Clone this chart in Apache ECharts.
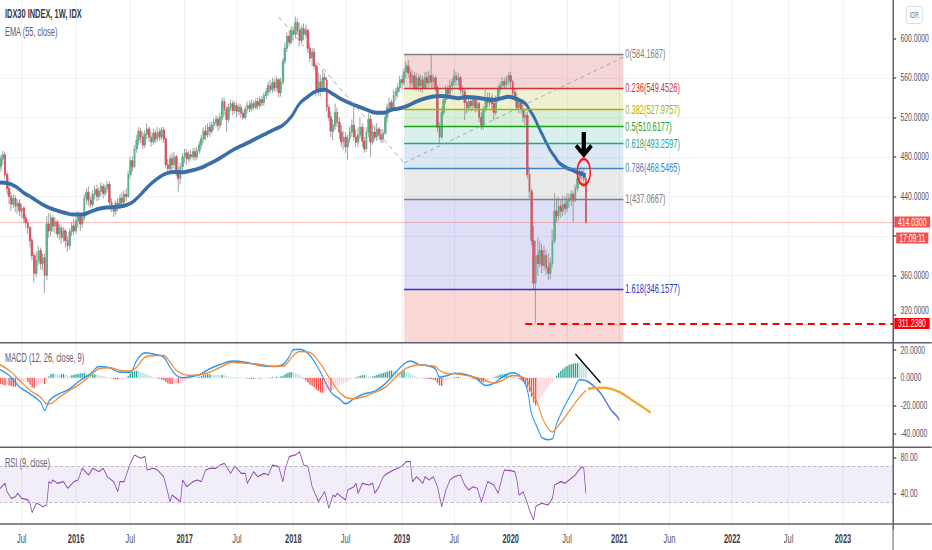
<!DOCTYPE html>
<html><head><meta charset="utf-8">
<script src="https://cdn.jsdelivr.net/npm/echarts@6/dist/echarts.min.js"></script>
<style>
html,body{margin:0;padding:0;overflow:hidden;background:#fff;width:932px;height:550px;}
#wrap{width:932px;height:550px;overflow:hidden;position:relative;}
#chart{position:absolute;left:0;top:0;width:1503px;height:550px;transform:scaleX(0.62);transform-origin:0 0;}
</style></head><body><div id="wrap"><div id="chart"></div></div>
<script>
// ---------------- data ----------------
const tickIndex  = [11, 37, 63, 89, 114, 141, 166, 193, 218, 245, 272, 297, 321, 351, 378, 404];
const tickLabels = ['Jul','2016','Jul','2017','Jul','2018','Jul','2019','Jul','2020','Jul','2021','Jun','2022','Jul','2023'];

// weekly candles [open, close, low, high]
const candles = [
[462,470,458,474],[470,478,465,482],[478,482,472,486],[482,462,458,485],[462,448,442,465],
[448,440,432,452],[440,432,425,445],[432,438,428,442],[438,430,424,441],[430,433,422,437],
[433,425,420,437],[425,428,418,432],[428,418,413,430],[418,413,408,422],[413,408,402,416],
[408,395,388,410],[395,380,375,398],[380,362,353,383],[362,375,358,384],[375,385,370,390],
[385,372,366,388],[372,378,365,382],[378,360,342,382],[360,412,355,420],[412,405,398,423],
[405,418,400,422],[418,410,404,421],[410,414,402,419],[414,402,398,416],[402,408,396,412],
[408,398,392,411],[398,405,394,409],[405,395,388,407],[395,390,384,400],[390,404,386,408],
[404,410,400,414],[410,405,401,417],[405,415,402,419],[415,420,408,425],[420,412,405,423],
[412,418,408,421],[418,438,415,442],[438,444,432,448],[444,436,430,450],[436,432,428,440],
[432,442,429,446],[442,447,437,451],[447,440,435,452],[440,445,436,449],[445,450,440,454],
[450,443,438,453],[443,448,440,452],[448,452,444,456],[452,434,430,455],[434,428,424,438],
[428,425,419,431],[425,433,421,436],[433,430,425,438],[430,438,427,442],[438,434,430,444],
[434,442,432,446],[442,440,435,448],[440,462,438,466],[462,476,458,480],[476,470,465,481],
[470,488,468,492],[488,497,484,502],[497,506,492,510],[506,500,494,509],[500,492,488,505],
[492,503,489,507],[503,508,498,514],[508,500,495,511],[500,495,490,505],[495,504,492,508],
[504,498,494,507],[498,505,495,510],[505,500,496,509],[500,507,497,510],[507,498,494,510],
[498,472,468,500],[472,468,462,478],[468,478,464,482],[478,472,466,484],[472,480,468,485],
[480,466,460,482],[466,458,444,470],[458,470,452,474],[470,480,466,484],[480,484,474,488],
[484,478,472,488],[478,482,474,486],[482,480,476,487],[480,485,477,489],[485,480,476,489],
[480,486,477,490],[486,492,483,496],[492,498,488,502],[498,506,494,510],[506,502,497,512],
[502,510,499,514],[510,506,500,515],[506,512,503,516],[512,515,507,519],[515,518,510,522],
[518,512,506,521],[512,520,508,524],[520,536,517,540],[536,528,522,540],[528,518,505,531],
[518,530,515,534],[530,534,526,538],[534,527,522,537],[527,532,524,536],[532,526,520,535],
[526,530,522,534],[530,524,519,533],[524,520,517,528],[520,528,518,531],[528,532,524,536],
[532,529,525,537],[529,534,526,538],[534,530,527,537],[530,536,528,539],[536,532,528,540],
[532,538,529,541],[538,535,531,542],[535,542,532,545],[542,546,538,550],[546,552,542,556],
[552,548,544,558],[548,555,545,560],[555,550,546,559],[550,558,546,562],[558,545,540,560],
[545,556,541,560],[556,577,553,580],[577,590,574,596],[590,602,586,606],[602,596,592,608],
[596,608,594,612],[608,604,598,612],[604,616,600,622],[616,608,603,620],[608,598,592,616],
[598,610,595,613],[610,604,598,615],[604,608,600,614],[608,590,585,610],[590,580,576,595],
[580,586,572,590],[586,572,568,590],[572,548,541,575],[548,556,542,565],[556,550,541,563],
[550,560,546,568],[560,558,548,565],[558,530,526,561],[530,520,516,533],[520,506,500,526],
[506,512,497,518],[512,525,508,534],[525,515,510,530],[515,505,498,520],[505,495,490,512],
[495,500,487,506],[500,490,484,505],[490,498,477,502],[498,505,494,510],[505,512,500,518],
[512,500,496,532],[500,495,490,508],[495,502,490,510],[502,510,498,520],[510,496,490,514],
[496,488,484,500],[488,505,485,510],[505,518,500,524],[518,495,480,522],[495,505,492,514],
[505,500,497,512],[500,508,496,514],[508,502,497,510],[502,498,494,508],[498,504,494,508],
[504,520,502,524],[520,530,515,534],[530,535,526,540],[535,530,526,538],[530,542,528,548],
[542,546,537,550],[546,550,540,555],[550,558,546,562],[558,555,548,563],[555,566,552,570],
[566,572,560,576],[572,565,560,578],[565,555,550,570],[555,562,551,568],[562,550,548,566],
[550,560,547,565],[560,552,546,564],[552,558,546,563],[558,550,545,562],[550,560,548,566],
[560,555,550,566],[555,562,551,567],[562,556,550,584.1687],[556,560,550,564],[560,550,546,562],
[550,510,505,552],[510,500,494,515],[500,525,498,530],[525,538,522,542],[538,548,534,552],
[548,544,540,553],[544,552,540,558],[552,556,546,560],[556,562,552,568],[562,558,552,566],
[558,560,552,565],[560,548,544,562],[548,546,540,552],[546,535,517,550],[535,530,524,540],
[530,536,526,540],[536,532,526,539],[532,538,528,542],[538,530,525,541],[530,534,526,538],
[534,520,515,536],[520,512,507,525],[512,528,508,532],[528,540,525,548],[540,535,530,545],
[535,540,531,545],[540,534,528,544],[534,525,517,538],[525,538,522,542],[538,548,535,552],
[548,552,544,556],[552,556,548,561],[556,553,549,560],[553,558,550,562],[558,562,552,566],
[562,556,550,566],[556,545,538,558],[545,540,536,550],[540,530,527,545],[530,535,524,538],
[535,528,524,538],[528,520,515,531],[520,522,512,528],[522,462,458,526],[462,445,438,470],
[445,395,390,448],[395,352,345,410],[352,380,311.238,395],[380,372,360,398],[372,385,368,395],
[385,370,362,392],[370,380,365,390],[380,368,360,386],[368,362,355,382],[362,372,356,378],
[372,395,368,406],[395,425,392,443],[425,420,414,438],[420,430,415,440],[430,425,418,436],
[425,432,420,441],[432,428,422,440],[428,435,424,443],[435,438,428,443],[438,442,430,446],
[442,436,414,445],[436,448,434,452],[448,458,445,462],[458,465,452,468],[465,462,456,470],
[462,458,452,469],[458,414.03,412,461]
];

// EMA(55): [weekIndex, value]
const emaPoints = [[0,454],[4,453.5],[8,450],[12,443.5],[16,438.5],[20,433],[24,428.5],[28,425.5],[32,423],[36,421.5],[40,421.5],[44,424.5],[48,427.3],[52,428.7],[56,429.3],[60,430.5],[64,434],[68,442],[72,451],[76,458],[80,463],[84,464.5],[88,464.3],[92,466],[96,468.3],[100,472],[104,476.3],[108,481.5],[112,486.8],[116,491],[120,495],[124,499.5],[128,503.5],[132,507.8],[136,512],[140,520.5],[144,534],[148,541],[152,546.5],[156,547.8],[160,543.5],[164,538.5],[168,534.3],[172,531],[176,527.8],[180,524.8],[184,524.5],[188,527.6],[192,529.1],[196,532],[200,536],[204,539],[208,541],[212,541.5],[216,540.6],[220,539.4],[224,540.5],[228,540],[232,538.8],[236,537.6],[240,539],[244,540.7],[248,538.5],[252,534],[254,527.5],[256,521],[258,512],[260,503],[262,494.5],[264,486.5],[266,480.5],[268,474.3],[270,471],[272,468.5],[274,467],[276,465],[278,463.4],[280,461.8],[281,461.5]];

// Fibonacci retracement
const fibLevels = ['0','0.236','0.382','0.5','0.618','0.786','1','1.618'];
const fibPrices = [584.1687,549.4526,527.9757,510.6177,493.2597,468.5465,437.0667,346.1577];
const fibStart = 194, fibEnd = 299;
const trendLines = [[[134,621.6],[194,473.7]], [[194,473.7],[299,581]]];

const lastPrice = 414.03, countdown = '17:09:11';
const lowPrice = 311.238, lowLineStart = 252, lowLineEnd = 428;
const arrowAt = [280, 492], circleAt = [280, 464.6];
const hiddenPriceLabels = [400];     // covered by the price tags in the reference
const raisedPriceLabels = [320];     // partly under the 311.2380 tag

// MACD (12, 26, close, 9)
const macdPoints = [[0,6.5],[5,1.7],[10,-6.7],[15,-11.5],[20,-17.5],[22,-23.5],[24,-17],[26,-14],[29,-11.5],[34,-7.9],[39,-1.9],[44,2.9],[48,8.1],[53,7.2],[58,4],[63,4],[66,12.4],[70,18],[75,16.8],[79,14.8],[82,7.6],[85,1.7],[88,0],[91,0.5],[96,2.2],[101,6.5],[106,9.6],[112,12],[118,11.2],[125,8.8],[131,8.1],[136,9.6],[139,15],[141,20.1],[144,20.5],[149,16],[154,4],[159,-10.4],[163,-15.1],[166,-18.7],[170,-15.1],[175,-11.5],[180,-9.6],[185,-4.3],[190,4],[194,10],[197,12],[201,9.6],[205,8.8],[209,6.5],[211,0.4],[215,1.7],[218,3.3],[222,2.9],[228,0],[233,-5.5],[237,-3.9],[241,0.4],[246,3.6],[250,0.4],[253,-9.1],[255,-25.9],[258,-36.7],[260,-43.2],[263,-44.6],[265,-43.9],[267,-33.1],[271,-19.9],[275,-9.1],[278,-1.4],[281,-1.9]];
const signalPoints = [[0,10],[5,5.3],[10,-1.9],[15,-9.1],[20,-13.9],[23,-18.7],[25,-18.5],[29,-14],[34,-9.1],[39,-4.3],[44,1.7],[48,6.5],[53,7.2],[58,5.3],[63,4.8],[66,7.6],[70,14.8],[75,16],[79,16],[82,11.2],[85,5.3],[88,2.9],[91,1.7],[96,2.2],[101,4],[106,7.6],[112,11.2],[118,10.5],[125,9.6],[131,8.3],[136,8.3],[141,16],[144,19],[149,18.2],[154,10],[159,-1.9],[163,-10.4],[166,-14],[170,-15.1],[175,-13.5],[180,-10.4],[185,-6.8],[190,0.4],[194,5.8],[197,8.1],[201,9.3],[205,8.8],[209,8.1],[211,5.3],[215,2.9],[218,2.9],[222,2.2],[228,0.4],[233,-1.9],[237,-3.9],[241,-1.9],[246,1.7],[250,0.9],[253,-1.9],[255,-10.4],[258,-18.7],[260,-28.3],[263,-36.7],[265,-39.1],[267,-36],[271,-28.3],[275,-19.9],[278,-14],[281,-9.1]];
const histValues = [
-4,-4.5,-5,-5.5,-5,-5.5,-6,-6.5,-6.5,-6,-5,-4,-3,-2.5,-3,-5,-7,-7.5,-6,-5,-4,-3.5,-4.5,-2,1,
2.5,3,2.8,2.5,2.2,2.5,2.8,2.2,1.5,1.2,1.8,2.2,2.5,2.8,3,3.2,3.5,3,2.5,2,2.2,2.5,2.2,1.8,1.5,
1.2,1,0.6,0.2,-0.3,-0.8,-1,-1.2,-1,-0.8,-0.5,0.2,1.5,3,4.2,4.8,5,4.8,4.2,3.6,3,2.4,1.8,1.2,0.6,
0.2,-0.4,-0.8,-1.2,-1.8,-3,-4,-4.5,-4.5,-4,-3.8,-4,-3.5,-2.8,-2.2,-1.5,-1,-0.6,-0.2,0,0.3,0.8,1.2,1.8,2.2,
2.5,2.6,2.4,2.2,2.1,2,1.8,2,1.8,1.3,1,0.8,0.6,0.5,0.4,0.3,0.2,0,-0.2,-0.4,-0.6,-0.7,-0.8,-0.6,-0.5,
-0.6,-0.4,-0.3,0,-0.2,0.3,0.6,0.5,0.8,0.6,1,1.5,2.5,3.2,3.8,4.2,4,3.5,3,2,1,-0.5,-2,-3.5,-5,
-6,-7,-8.5,-9.5,-10.5,-11,-10,-9,-8.5,-9.5,-8.5,-7.5,-6.5,-5.5,-4.8,-4,-3.5,-2.5,-1.5,-0.8,0,0.5,1,1.5,1.8,
2,1.5,1,0.8,1,1.5,2,2.5,3,3.5,4,4.5,5,5.3,5,4.8,4.5,4.2,4.6,5,4.5,4,3,2,1.2,
0.5,0.2,0,-0.3,-0.5,-0.5,-0.8,-1,-1.2,-2,-4,-5.5,-6,-4,-2.5,-1.5,-0.8,-0.2,0.3,0.5,0.8,0.6,0.3,0.2,0.1,
0,-0.3,-0.6,-1,-1.5,-2.2,-3,-3.5,-3,-2,-1,-0.3,0.3,1,1.6,2.2,2.6,2.8,3,2.8,2.4,1.8,1,0.2,-0.8,
-1.8,-3,-4.5,-7,-10,-14,-18,-20,-18,-15.5,-13,-10.5,-8.5,-6.5,-4.5,-2.5,-0.5,1.5,3.5,5,6.5,7.5,8.5,9.3,9.8,
10.2,10.5,10.6,10.5,10.4,9.8,7.5];
const macdProjection   = [[281,-1.9],[284,-5],[288,-11],[293,-23],[296,-28],[297,-30.5]];
const signalProjection = [[282,-7.9],[286,-7.3],[290,-7.2],[293,-8],[296,-9.5],[298,-11],[302,-15],[306,-19],[310,-23],[312,-25]];
const macdTrend = [[276,17.1],[288,-3.6]];

// RSI (9, close)
const rsiPoints = [[0,43.7],[3,51.1],[4,41.8],[6,34.4],[8,36.2],[9,40],[11,34.4],[14,32.6],[15,28.9],[16,18.5],[18,28.9],[20,27],[21,25.1],[23,27],[24,52.9],[25,51.1],[26,54.8],[28,51.1],[31,52.9],[33,45.6],[36,52.9],[38,54.8],[40,67.8],[43,60.3],[45,67.8],[48,64],[50,67.8],[52,58.4],[55,52.9],[57,41.8],[58,52.9],[60,52.9],[63,73.3],[65,82.6],[68,78.9],[70,80.7],[71,65.9],[74,67.8],[76,65.9],[79,58.4],[81,40],[82,30.7],[83,38.1],[85,34.4],[87,30.7],[88,54.8],[90,47.3],[93,52.9],[95,54.8],[97,52.9],[99,65.9],[101,67.8],[104,67.8],[106,71.4],[108,73.3],[111,62.2],[113,70.3],[116,62.2],[118,62.2],[119,51.1],[122,64],[124,58.4],[127,62.2],[129,60.3],[131,71.4],[134,69.6],[136,52.9],[137,65.9],[139,80.7],[142,82.6],[144,86.2],[146,71.4],[148,69.6],[150,47.3],[153,30.7],[156,41.8],[158,23.3],[160,38.1],[161,36.2],[162,40],[164,36.2],[166,32.6],[167,43.7],[170,47.3],[171,51.1],[172,40],[174,51.1],[177,49.2],[179,51.1],[180,40],[182,47.3],[184,58.4],[186,62.2],[189,65.9],[191,67.8],[193,70.3],[195,75.1],[197,75.1],[198,52.9],[200,58.4],[203,51.1],[204,58.4],[206,54.8],[208,58.4],[210,47.3],[212,25.1],[214,43.7],[216,54.8],[218,58.4],[221,60.3],[223,49.2],[225,43.7],[227,47.3],[229,45.6],[231,30.7],[233,45.6],[234,52.9],[237,49.2],[239,40],[241,58.4],[242,65.9],[245,65.1],[247,64],[248,54.8],[249,38.1],[251,41.8],[253,28.9],[254,21.4],[256,10.3],[257,25.1],[258,27],[260,28.9],[263,27],[265,34.4],[266,49.2],[269,52.9],[271,51.1],[273,54.8],[276,60.3],[277,64],[279,69.6],[280,67.8],[281,40]];
const rsiUpper = 70, rsiLower = 30;

// ---------------- layout / style ----------------
const SX = 0.62, K = 1 / SX;             // reference picture is squeezed horizontally
const NCAT = 429;
const categories = [];
for (let i = 0; i < NCAT; i++) {
  categories.push(new Date(Date.UTC(2015, 3, 20) + i * 7 * 86400000).toISOString().slice(0, 10));
}
const tickMap = {};
tickIndex.forEach((k, j) => { tickMap[k] = tickLabels[j]; });

const plotLeft = -1.3 * K, plotWidth = 428 * 2.0896 * K, plotRight = plotLeft + plotWidth;
const gridTops = [-1.2, 322.23, 439.3], gridHeights = [355.5, 138.84, 90];
const separators = [342.7, 447.3, 524];
const priceAtPaneBottom = 291.75;
const FONT = '"Liberation Sans", Arial, sans-serif';
const gridColor = '#eef0f4', axisColor = '#5d606b', textColor = '#50535e';

const fibLineColors = ['#808080','#cc3333','#a5b300','#1e9e1e','#1ea88c','#3d85c6','#808080','#3333cc'];
const fibFillColors = ['rgba(204,51,51,0.2)','rgba(165,179,0,0.18)','rgba(30,158,30,0.17)','rgba(30,168,140,0.17)','rgba(61,133,198,0.18)','rgba(128,128,128,0.17)','rgba(51,51,204,0.16)','rgba(230,60,60,0.2)'];

const xAxes = [0, 1, 2].map(g => ({
  type: 'category', gridIndex: g, data: categories, boundaryGap: false,
  axisLine: { show: false }, axisTick: { show: false },
  axisLabel: {
    show: g === 2, margin: 3, interval: (idx) => tickMap[idx] !== undefined,
    formatter: (v, idx) => { const t = tickMap[idx] || ''; return /^\d{4}$/.test(t) ? '{y|' + t + '}' : '{m|' + t + '}'; },
    rich: { y: { fontWeight: 'bold', fontSize: 12, color: '#3b3e48', fontFamily: FONT }, m: { fontSize: 12, color: textColor, fontFamily: FONT } }
  },
  splitLine: { show: true, interval: (idx) => tickMap[idx] !== undefined, lineStyle: { color: gridColor, width: 1.6 } }
}));

function yAx(g, min, max, interval, dec, ticks) {
  return {
    type: 'value', gridIndex: g, position: 'right', min, max, interval, scale: false,
    axisLine: { show: true, lineStyle: { color: axisColor, width: 1.6 } },
    axisTick: { show: true, length: 5, customValues: ticks, lineStyle: { color: axisColor, width: 1.6 } },
    axisLabel: {
      showMinLabel: false, showMaxLabel: false, margin: 12, color: textColor, fontSize: 11, fontFamily: FONT,
      formatter: v => {
        if (g === 0 && hiddenPriceLabels.indexOf(v) >= 0) return '';
        if (g === 0 && raisedPriceLabels.indexOf(v) >= 0) return '{r|' + v.toFixed(dec) + '}';
        return v.toFixed(dec);
      },
      rich: { r: { color: textColor, fontSize: 11, fontFamily: FONT, padding: [0, 0, 9, 0] } }
    },
    splitLine: { show: true, showMinLine: false, showMaxLine: false, lineStyle: { color: gridColor, width: 1 } }
  };
}

// fib marks
const fibAreas = [];
for (let k = 0; k < fibPrices.length - 1; k++) {
  fibAreas.push([{ coord: [fibStart, fibPrices[k]], itemStyle: { color: fibFillColors[k] } }, { coord: [fibEnd, fibPrices[k + 1]] }]);
}
fibAreas.push([{ coord: [fibStart, fibPrices[fibPrices.length - 1]], itemStyle: { color: fibFillColors[fibPrices.length - 1] } }, { coord: [fibEnd, priceAtPaneBottom] }]);
const fibLines = fibPrices.map((p, k) => [
  { coord: [fibStart, p], lineStyle: { color: fibLineColors[k], width: 1.3, type: 'solid' },
    label: { show: true, position: 'end', distance: 3, color: fibLineColors[k], fontSize: 12, fontFamily: FONT, formatter: fibLevels[k] + '(' + p.toFixed(4) + ')' } },
  { coord: [fibEnd, p] }
]);
trendLines.forEach(t => fibLines.push([
  { coord: t[0], lineStyle: { color: '#9598a1', width: 1, type: [6, 5] }, label: { show: false } },
  { coord: t[1] }
]));

const bodyData = candles.map(c => [c[0], c[1], Math.min(c[0], c[1]), Math.max(c[0], c[1])]);
const histData = histValues.map((v, i) => {
  const prev = i > 0 ? histValues[i - 1] : v;
  const color = v >= 0 ? (v >= prev ? '#26a69a' : '#b2dfdb') : (v <= prev ? '#ef5350' : '#ffcdd2');
  return { value: v, itemStyle: { color } };
});

const tagRich = (bg) => ({ backgroundColor: bg, color: '#fff', fontSize: 11, lineHeight: 14, padding: [0, 6], fontFamily: FONT });

const option = {
  animation: false,
  textStyle: { fontFamily: FONT },
  grid: gridTops.map((t, k) => ({ left: plotLeft, top: t, width: plotWidth, height: gridHeights[k], containLabel: false, outerBoundsMode: 'none' })),
  xAxis: xAxes,
  yAxis: [
    yAx(0, 280, 640, 40, 4, [320, 360, 400, 440, 480, 520, 560, 600]),
    yAx(1, -60, 40, 20, 4, [-40, -20, 0, 20]),
    yAx(2, 0, 100, 40, 2, [40, 80])
  ],
  series: [
    { // fibonacci bands and levels
      type: 'line', xAxisIndex: 0, yAxisIndex: 0, data: [], z: 1, silent: true,
      markArea: { silent: true, data: fibAreas },
      markLine: { silent: true, symbol: ['none', 'none'], data: fibLines }
    },
    { // wicks
      type: 'candlestick', xAxisIndex: 0, yAxisIndex: 0, z: 3, barWidth: 2.2, silent: true, data: candles,
      itemStyle: { color: '#8a8c92', color0: '#8a8c92', borderColor: '#8a8c92', borderColor0: '#8a8c92', borderWidth: 1 },
      markLine: {
        silent: true, symbol: ['none', 'none'],
        data: [
          { yAxis: lastPrice, lineStyle: { color: 'rgba(239,83,80,0.45)', width: 1, type: 'solid' },
            label: { show: true, position: 'end', distance: 2, formatter: '{p|' + lastPrice.toFixed(4) + '}',
              rich: { p: tagRich('#ef5350') } } },
          [ { coord: [NCAT - 2, lastPrice], lineStyle: { color: 'rgba(0,0,0,0)', width: 0 },
              label: { show: true, position: 'end', distance: 5, formatter: '{e|}\n{t|' + countdown + '}',
                rich: { e: { lineHeight: 32, fontSize: 11 }, t: Object.assign(tagRich('#ef5350'), { padding: [0, 5] }) } } },
            { coord: [NCAT - 1, lastPrice] } ],
          [ { coord: [lowLineStart, lowPrice], lineStyle: { color: '#ff0000', width: 2, type: [11, 8] },
              label: { show: true, position: 'end', distance: 2, formatter: '{p|' + lowPrice.toFixed(4) + '}',
                rich: { p: tagRich('#ff0000') } } },
            { coord: [lowLineEnd, lowPrice] } ]
        ]
      }
    },
    { // bodies
      type: 'candlestick', xAxisIndex: 0, yAxisIndex: 0, z: 3, barWidth: 2.2, silent: true, data: bodyData,
      itemStyle: { color: '#53b987', color0: '#eb4d5c', borderColor: '#53b987', borderColor0: '#eb4d5c', borderWidth: 1 }
    },
    { // EMA 55
      type: 'line', xAxisIndex: 0, yAxisIndex: 0, z: 4, data: emaPoints, smooth: 0.4, showSymbol: false, silent: true,
      lineStyle: { color: '#3a6ea8', width: 4 }
    },
    { // annotations: arrow + circle
      type: 'line', xAxisIndex: 0, yAxisIndex: 0, z: 6, data: [], silent: true,
      markPoint: {
        silent: true, label: { show: false },
        data: [
          { coord: arrowAt, symbol: 'path://M8,0 H13 V17 L18,12 L21,15 L10.5,26 L0,15 L3,12 L8,17 Z', symbolSize: [18 * K, 26], itemStyle: { color: '#000' } },
          { coord: circleAt, symbol: 'circle', symbolSize: [13 * K, 26], itemStyle: { color: 'rgba(0,0,0,0)', borderColor: '#ff1a1a', borderWidth: 2.6 } }
        ]
      }
    },
    { // MACD histogram
      type: 'bar', xAxisIndex: 1, yAxisIndex: 1, barWidth: 2.2, silent: true, data: histData, z: 2
    },
    { type: 'line', xAxisIndex: 1, yAxisIndex: 1, data: macdPoints, smooth: 0.35, showSymbol: false, silent: true, z: 3,
      lineStyle: { color: '#2196f3', width: 1.5 },
      markLine: { silent: true, symbol: ['none', 'none'], label: { show: false },
        data: [[{ coord: macdTrend[0], lineStyle: { color: '#000', width: 1.6, type: 'solid' } }, { coord: macdTrend[1] }]] } },
    { type: 'line', xAxisIndex: 1, yAxisIndex: 1, data: signalPoints, smooth: 0.35, showSymbol: false, silent: true, z: 3,
      lineStyle: { color: '#f7882f', width: 1.5 } },
    { type: 'line', xAxisIndex: 1, yAxisIndex: 1, data: macdProjection, smooth: 0.35, showSymbol: false, silent: true, z: 3,
      lineStyle: { color: '#5a7fd8', width: 2 } },
    { type: 'line', xAxisIndex: 1, yAxisIndex: 1, data: signalProjection, smooth: 0.35, showSymbol: false, silent: true, z: 3,
      lineStyle: { color: '#f5a623', width: 2.5 } },
    { // RSI
      type: 'line', xAxisIndex: 2, yAxisIndex: 2, data: rsiPoints, showSymbol: false, silent: true, z: 3,
      lineStyle: { color: '#8e44ad', width: 1.2 },
      markArea: { silent: true, itemStyle: { color: 'rgba(126,87,194,0.1)' }, data: [[{ yAxis: rsiLower }, { yAxis: rsiUpper }]] },
      markLine: { silent: true, symbol: ['none', 'none'], label: { show: false },
        lineStyle: { color: '#a9abb2', width: 1, type: [5, 4] },
        data: [{ yAxis: rsiUpper }, { yAxis: rsiLower }] }
    }
  ],
  graphic: [
    { type: 'text', left: 8, top: 8, z: 100, style: { text: 'IDX30 INDEX, 1W, IDX', fill: '#363a45', font: 'bold 12px ' + FONT } },
    { type: 'text', left: 8, top: 26, z: 100, style: { text: 'EMA (55, close)', fill: '#5d606b', font: '12px ' + FONT } },
    { type: 'text', left: 8, top: 352, z: 100, style: { text: 'MACD (12, 26, close, 9)', fill: '#5d606b', font: '12px ' + FONT } },
    { type: 'text', left: 8, top: 457, z: 100, style: { text: 'RSI (9, close)', fill: '#5d606b', font: '12px ' + FONT } },
    ...separators.map(y => ({ type: 'line', z: 100, silent: true, shape: { x1: 0, y1: y, x2: 1503, y2: y }, style: { stroke: axisColor, lineWidth: 1.5 } })),
    { type: 'line', z: 100, silent: true, shape: { x1: plotRight, y1: 0, x2: plotRight, y2: 550 }, style: { stroke: axisColor, lineWidth: 1.6 } },
    { type: 'group', left: 906 * K, top: 6, z: 100, children: [
      { type: 'rect', shape: { x: 0, y: 0, width: 16 * K, height: 17, r: 3 }, style: { fill: '#fff', stroke: '#d1d4dc', lineWidth: 1 } },
      { type: 'text', left: 5, top: 4, style: { text: 'IDR', fill: '#787b86', font: '9px ' + FONT } }
    ] }
  ]
};

const chart = echarts.init(document.getElementById('chart'), null, { renderer: 'svg', width: 1503, height: 550 });
chart.setOption(option);
</script></body></html>
